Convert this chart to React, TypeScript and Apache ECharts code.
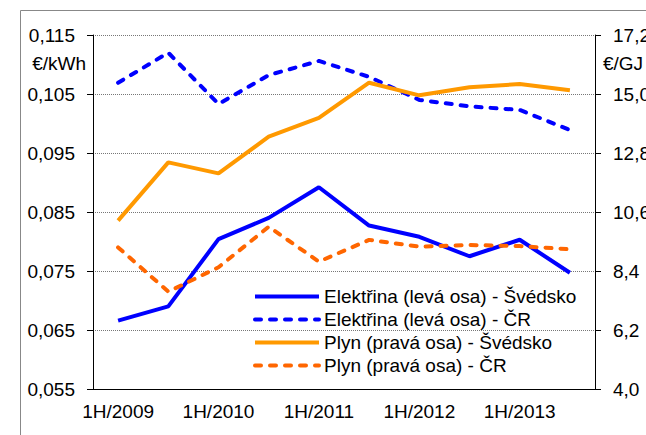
import React, { useEffect, useRef } from "react";
import * as echarts from "echarts";

const categories = [
  "1H/2009", "2H/2009", "1H/2010", "2H/2010", "1H/2011",
  "2H/2011", "1H/2012", "2H/2012", "1H/2013", "2H/2013",
];
const elektrinaSvedsko = [0.0666, 0.069, 0.0804, 0.084, 0.0892, 0.0827, 0.0808, 0.0775, 0.0803, 0.0747];
const elektrinaCR = [0.1069, 0.112, 0.1033, 0.1082, 0.1106, 0.1079, 0.104, 0.1029, 0.1023, 0.0989];
const plynSvedsko = [10.28, 12.45, 12.04, 13.41, 14.11, 15.42, 14.95, 15.25, 15.37, 15.14];
const plynCR = [9.28, 7.63, 8.54, 10.05, 8.75, 9.56, 9.31, 9.37, 9.33, 9.21];

const seriesNames = [
  "Elektřina (levá osa) - Švédsko",
  "Elektřina (levá osa) - ČR",
  "Plyn (pravá osa) - Švédsko",
  "Plyn (pravá osa) - ČR",
];

const FONT = "'Liberation Sans', Arial, sans-serif";

export default function App() {
  const ref = useRef<HTMLDivElement>(null);
  useEffect(() => {
    if (!ref.current) return;
    const chart = echarts.init(ref.current, null, { renderer: "svg" });
    const dash = [6, 9];
    chart.setOption({
      animation: false,
      backgroundColor: "#ffffff",
      textStyle: { fontFamily: FONT },
      grid: {
        left: 93,
        top: 35,
        width: 502,
        height: 354,
        containLabel: false,
        outerBoundsMode: "none",
      },
      legend: {
        orient: "vertical",
        left: 248,
        top: 282,
        padding: 5,
        itemWidth: 64,
        itemHeight: 14,
        itemGap: 4,
        itemStyle: { opacity: 0 },
        lineStyle: { width: 4 },
        textStyle: { fontSize: 19, color: "#000", fontFamily: FONT },
        data: seriesNames,
      },
      xAxis: {
        type: "category",
        data: categories,
        boundaryGap: true,
        axisLine: { lineStyle: { color: "#000", width: 1 } },
        axisTick: { interval: 0, length: 5, lineStyle: { color: "#888" } },
        axisLabel: { interval: 1, fontSize: 19, color: "#000", margin: 13, fontFamily: FONT },
        splitLine: { show: false },
      },
      yAxis: [
        {
          type: "value",
          min: 0.055,
          max: 0.115,
          interval: 0.01,
          axisLine: { show: true, lineStyle: { color: "#000" } },
          axisTick: { show: true, length: 6, lineStyle: { color: "#000" } },
          axisLabel: {
            fontSize: 19,
            color: "#000",
            margin: 18,
            fontFamily: FONT,
            formatter: (v: number) => v.toFixed(3).replace(".", ","),
          },
          splitLine: { show: true, lineStyle: { color: "#777", type: [1, 1], width: 1 } },
        },
        {
          type: "value",
          min: 4.0,
          max: 17.2,
          interval: 2.2,
          position: "right",
          axisLine: { show: true, lineStyle: { color: "#000" } },
          axisTick: { show: true, length: 6, lineStyle: { color: "#000" } },
          axisLabel: {
            fontSize: 19,
            color: "#000",
            margin: 18,
            fontFamily: FONT,
            formatter: (v: number) => v.toFixed(1).replace(".", ","),
          },
          splitLine: { show: false },
        },
      ],
      graphic: [
        {
          type: "rect",
          shape: { x: 20.5, y: 10.5, width: 700, height: 500 },
          style: { fill: "none", stroke: "#888", lineWidth: 1 },
          silent: true,
          z: -1,
        },
        {
          type: "text",
          x: 86,
          y: 63,
          style: { text: "€/kWh", fontSize: 19, fontFamily: FONT, fill: "#000", align: "right", verticalAlign: "middle" },
        },
        {
          type: "text",
          x: 603,
          y: 63,
          style: { text: "€/GJ", fontSize: 19, fontFamily: FONT, fill: "#000", align: "left", verticalAlign: "middle" },
        },
      ],
      series: [
        {
          name: seriesNames[0],
          type: "line",
          yAxisIndex: 0,
          data: elektrinaSvedsko,
          symbol: "none",
          color: "#0000ff",
          lineStyle: { color: "#0000ff", width: 4 },
        },
        {
          name: seriesNames[1],
          type: "line",
          yAxisIndex: 0,
          data: elektrinaCR,
          symbol: "none",
          color: "#0000ff",
          lineStyle: { color: "#0000ff", width: 4, type: dash, cap: "round" },
        },
        {
          name: seriesNames[2],
          type: "line",
          yAxisIndex: 1,
          data: plynSvedsko,
          symbol: "none",
          color: "#ff9900",
          lineStyle: { color: "#ff9900", width: 4 },
        },
        {
          name: seriesNames[3],
          type: "line",
          yAxisIndex: 1,
          data: plynCR,
          symbol: "none",
          color: "#ff6600",
          lineStyle: { color: "#ff6600", width: 4, type: dash, cap: "round" },
        },
      ],
    });
    return () => chart.dispose();
  }, []);
  return (
    <div
      ref={ref}
      style={{ position: "fixed", left: 0, top: 0, width: 646, height: 435 }}
    />
  );
}
